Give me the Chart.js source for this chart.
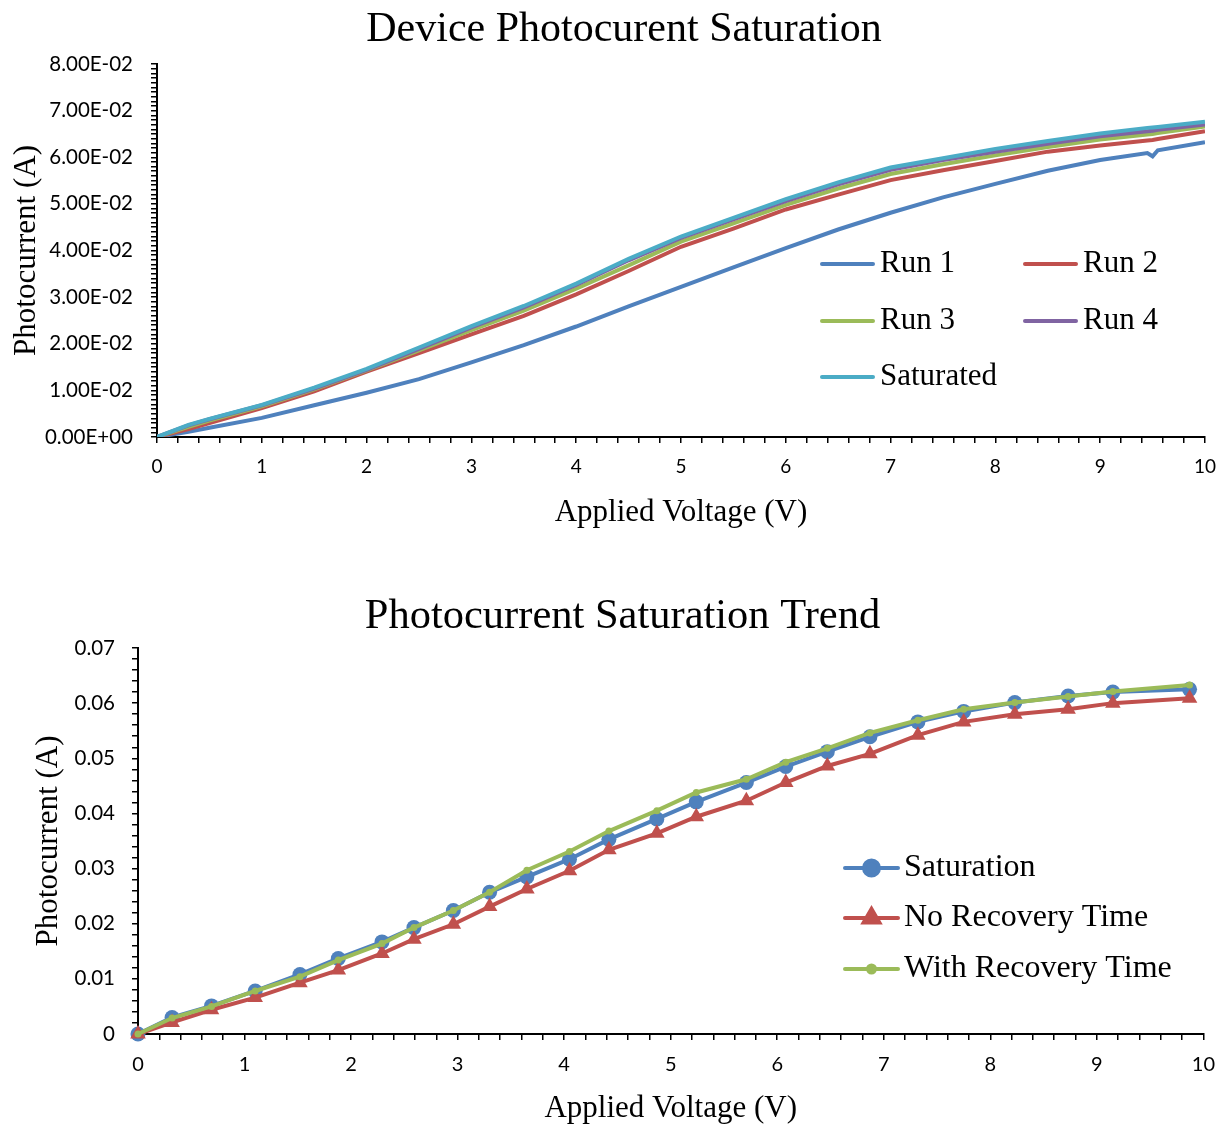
<!DOCTYPE html>
<html>
<head>
<meta charset="utf-8">
<script src="https://cdn.jsdelivr.net/npm/chart.js@4.4.0/dist/chart.umd.min.js"></script>
<style>
  body { margin: 0; background: #fff; }
  .box { position: absolute; left: 0; width: 1228px; }
  #top { top: 0; height: 545px; }
  #bottom { top: 575px; height: 549px; }
</style>
</head>
<body>
<div class="box" id="top"><canvas id="sweepChart"></canvas></div>
<div class="box" id="bottom"><canvas id="trendChart"></canvas></div>
<script>
// voltage sweep, one trace per run (A)
const sweepV = [0, 0.3, 0.5, 1, 1.5, 2, 2.5, 3, 3.5, 4, 4.5, 5, 5.5, 6, 6.5, 7, 7.5, 8, 8.5, 9, 9.45, 9.5, 9.55, 10];
const run1 = [0, 0.0011, 0.0020, 0.0041, 0.0068, 0.0095, 0.0124, 0.0160, 0.0197, 0.0237, 0.0280, 0.0322, 0.0364, 0.0405, 0.0445, 0.0481, 0.0514, 0.0543, 0.0571, 0.0594, 0.0609, 0.0602, 0.0615, 0.0632];
const run2 = [0, 0.0017, 0.0030, 0.0062, 0.0098, 0.0140, 0.0180, 0.0220, 0.0260, 0.0306, 0.0356, 0.0408, 0.0447, 0.0488, 0.0520, 0.0551, 0.0572, 0.0592, 0.0612, 0.0625, 0.0636, 0.0637, 0.0639, 0.0656];
const run3 = [0, 0.0022, 0.0035, 0.0066, 0.0102, 0.0143, 0.0186, 0.0229, 0.0271, 0.0318, 0.0368, 0.0419, 0.0458, 0.0498, 0.0533, 0.0564, 0.0585, 0.0604, 0.0622, 0.0638, 0.0649, 0.0650, 0.0652, 0.0666];
const run4 = [0, 0.0025, 0.0038, 0.0068, 0.0104, 0.0144, 0.0189, 0.0235, 0.0278, 0.0326, 0.0379, 0.0427, 0.0467, 0.0506, 0.0542, 0.0573, 0.0594, 0.0612, 0.0629, 0.0645, 0.0656, 0.0657, 0.0659, 0.0670];
const saturated = [0, 0.0026, 0.0039, 0.0069, 0.0106, 0.0146, 0.0192, 0.0238, 0.0281, 0.0329, 0.0382, 0.0430, 0.0470, 0.0510, 0.0546, 0.0578, 0.0598, 0.0618, 0.0635, 0.0651, 0.0663, 0.0664, 0.0665, 0.0676];

// trend points
const trendV = [0, 0.32, 0.69, 1.10, 1.52, 1.88, 2.29, 2.59, 2.96, 3.30, 3.65, 4.05, 4.42, 4.87, 5.24, 5.71, 6.08, 6.47, 6.87, 7.32, 7.75, 8.23, 8.73, 9.15, 9.87];
const saturation = [0, 0.0030, 0.0051, 0.0078, 0.0108, 0.0137, 0.0167, 0.0193, 0.0224, 0.0257, 0.0285, 0.0317, 0.0353, 0.0390, 0.0421, 0.0456, 0.0485, 0.0512, 0.0539, 0.0566, 0.0585, 0.0601, 0.0613, 0.0620, 0.0625];
const noRecovery = [0, 0.0021, 0.0044, 0.0066, 0.0093, 0.0116, 0.0146, 0.0172, 0.0199, 0.0231, 0.0263, 0.0296, 0.0334, 0.0364, 0.0394, 0.0423, 0.0456, 0.0486, 0.0508, 0.0542, 0.0566, 0.0580, 0.0589, 0.0600, 0.0609];
const withRecovery = [0, 0.0029, 0.0050, 0.0078, 0.0104, 0.0134, 0.0164, 0.0193, 0.0224, 0.0257, 0.0297, 0.0331, 0.0368, 0.0405, 0.0438, 0.0462, 0.0493, 0.0518, 0.0546, 0.0569, 0.0589, 0.0601, 0.0612, 0.0621, 0.0633];

const serif = 'Liberation Serif, Times New Roman, serif';
const sans = 'Lato, Open Sans, sans-serif';

function pts(xs, ys) { return xs.map((x, i) => ({x: x, y: ys[i]})); }

function tickRange(max, step) {
  const out = [];
  for (let i = 0; i <= Math.round(max / step); i++) out.push(+(i * step).toFixed(6));
  return out;
}
function isMajor(v, major) { return Math.abs(v / major - Math.round(v / major)) < 1e-6; }

function sci(v) {
  if (v === 0) return '0.00E+00';
  const parts = v.toExponential(2).split('e');
  const n = parseInt(parts[1], 10);
  return parts[0] + 'E' + (n < 0 ? '-' : '+') + String(Math.abs(n)).padStart(2, '0');
}

// legend drawn inside the plot area
const insideLegend = {
  id: 'insideLegend',
  afterDraw(chart, args, opts) {
    if (!opts.slots) return;
    const ctx = chart.ctx;
    ctx.save();
    chart.data.datasets.forEach((ds, i) => {
      const [x, y] = opts.slots[i];
      ctx.strokeStyle = ds.borderColor;
      ctx.lineWidth = ds.borderWidth;
      ctx.lineCap = 'round';
      ctx.beginPath();
      ctx.moveTo(x, y);
      ctx.lineTo(x + opts.lineLength, y);
      ctx.stroke();
      if (ds.pointRadius > 0) {
        ctx.fillStyle = ds.backgroundColor;
        ctx.strokeStyle = ds.borderColor;
        Chart.helpers.drawPoint(ctx, {pointStyle: ds.pointStyle, radius: ds.pointRadius, rotation: 0, borderWidth: 1}, x + opts.lineLength / 2, y);
      }
      ctx.fillStyle = '#000';
      ctx.font = opts.font;
      ctx.textBaseline = 'middle';
      ctx.textAlign = 'left';
      ctx.fillText(ds.label, x + opts.lineLength + opts.gap, y);
    });
    ctx.restore();
  }
};

function axisTicks(values, major, fmt, size, pad) {
  return {
    afterBuildTicks: s => { s.ticks = values.map(v => ({value: v})); },
    ticks: {
      autoSkip: false, maxRotation: 0, padding: pad, color: '#000',
      font: {family: sans, size: size},
      callback: v => isMajor(v, major) ? fmt(v) : ''
    },
    grid: {drawOnChartArea: false, drawTicks: true, tickLength: 6, color: '#000', lineWidth: 1.5},
    border: {color: '#000', width: 2}
  };
}

// top: full sweeps
const ctx = document.getElementById('sweepChart');
const sweepColors = ['#4F81BD', '#C0504D', '#9BBB59', '#8064A2', '#4BACC6'];
const sweepNames = ['Run 1', 'Run 2', 'Run 3', 'Run 4', 'Saturated'];
const sweepRuns = [run1, run2, run3, run4, saturated];

new Chart(ctx, {
  type: 'line',
  data: {
    datasets: sweepRuns.map((r, i) => ({
      label: sweepNames[i],
      data: pts(sweepV, r),
      borderColor: sweepColors[i],
      backgroundColor: sweepColors[i],
      borderWidth: 4,
      pointRadius: 0,
      tension: 0,
      order: 5 - i
    }))
  },
  options: {
    responsive: true, maintainAspectRatio: false, animation: false,
    layout: {padding: {left: 41, right: 21, top: 0, bottom: 0}},
    plugins: {
      legend: {display: false},
      tooltip: {enabled: false},
      title: {display: true, text: 'Device Photocurent Saturation', color: '#000',
        font: {family: serif, size: 42, weight: 'normal'}, padding: {top: 4.5, bottom: 9.1}},
      insideLegend: {
        font: '31px ' + serif, lineLength: 51, gap: 7,
        slots: [[822, 264], [1025, 264], [822, 321], [1025, 321], [822, 377]]
      }
    },
    scales: {
      x: Object.assign({
        type: 'linear', min: 0, max: 10,
        afterFit: s => { s.height = 108; },
        title: {display: true, text: 'Applied Voltage (V)', color: '#000',
          font: {family: serif, size: 31}, padding: {top: 0, bottom: 14}}
      }, axisTicks(tickRange(10, 0.2), 1, v => String(v), 19, 12)),
      y: Object.assign({
        type: 'linear', min: 0, max: 0.08,
        afterFit: s => { s.width = 116; },
        title: {display: true, text: 'Photocurrent (A)', color: '#000',
          font: {family: serif, size: 31}, padding: {top: -32.6, bottom: 0}}
      }, axisTicks(tickRange(0.08, 0.001), 0.01, sci, 20.5, 18))
    }
  },
  plugins: [insideLegend]
});

// bottom: point trend
const ctx1 = document.getElementById('trendChart');

new Chart(ctx1, {
  type: 'line',
  data: {
    datasets: [{
      label: 'Saturation',
      data: pts(trendV, saturation),
      borderColor: '#4F81BD', backgroundColor: '#4F81BD',
      borderWidth: 4, pointStyle: 'circle', pointRadius: 7.5, pointBorderWidth: 0,
      tension: 0, clip: false, order: 3
    }, {
      label: 'No Recovery Time',
      data: pts(trendV, noRecovery),
      borderColor: '#C0504D', backgroundColor: '#C0504D',
      borderWidth: 4, pointStyle: 'triangle', pointRadius: 9, pointBorderWidth: 0,
      tension: 0, clip: false, order: 2
    }, {
      label: 'With Recovery Time',
      data: pts(trendV, withRecovery),
      borderColor: '#9BBB59', backgroundColor: '#9BBB59',
      borderWidth: 4, pointStyle: 'circle', pointRadius: 3.5, pointBorderWidth: 0,
      tension: 0, clip: false, order: 1
    }]
  },
  options: {
    responsive: true, maintainAspectRatio: false, animation: false,
    layout: {padding: {left: 38, right: 21, top: 0, bottom: 0}},
    plugins: {
      legend: {display: false},
      tooltip: {enabled: false},
      title: {display: true, text: 'Photocurrent Saturation Trend', color: '#000',
        font: {family: serif, size: 42.5, weight: 'normal'}, padding: {top: 16.5, bottom: 5.5}},
      insideLegend: {
        font: '32px ' + serif, lineLength: 53, gap: 6,
        slots: [[845, 293], [845, 343], [845, 394]]
      }
    },
    scales: {
      x: Object.assign({
        type: 'linear', min: 0, max: 10,
        afterFit: s => { s.height = 90; },
        title: {display: true, text: 'Applied Voltage (V)', color: '#000',
          font: {family: serif, size: 31}, padding: {top: 0, bottom: -3}}
      }, axisTicks(tickRange(10, 0.2), 1, v => String(v), 20, 13)),
      y: Object.assign({
        type: 'linear', min: 0, max: 0.07,
        afterFit: s => { s.width = 100; },
        title: {display: true, text: 'Photocurrent (A)', color: '#000',
          font: {family: serif, size: 31}, padding: {top: -8, bottom: 0}}
      }, axisTicks(tickRange(0.07, 0.002), 0.01, v => v === 0 ? '0' : v.toFixed(2), 20.5, 17))
    }
  },
  plugins: [insideLegend]
});
</script>
</body>
</html>
